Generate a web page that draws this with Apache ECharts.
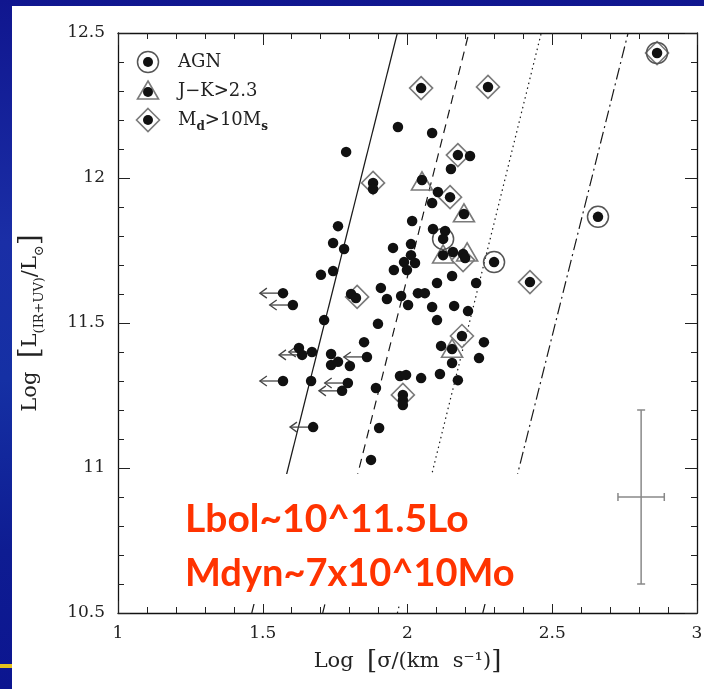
<!DOCTYPE html>
<html><head><meta charset="utf-8">
<script src="https://cdn.jsdelivr.net/npm/echarts@6.0.0/dist/echarts.min.js"></script>
<style>
html,body{margin:0;padding:0;width:704px;height:689px;overflow:hidden;
background:linear-gradient(180deg,#10168f 0%,#1a2ea6 35%,#1530a4 55%,#0e1c92 80%,#0c1590 100%);}
#wrap{position:absolute;left:12px;top:6px;width:692px;height:683px;background:#fff;}
#chart{width:692px;height:683px;}
#yl{position:absolute;left:0;top:664px;width:12px;height:4px;background:#e6c21c;}
</style></head>
<body>
<div id="wrap"><div id="chart"></div></div>
<div id="yl"></div>
<script>
// ---- data ----
const xTickLabels = ['1','1.5','2','2.5','3'];
const yTickLabels = ['10.5','11','11.5','12','12.5'];
const dots = [
[2.047,12.310],[2.278,12.314],[2.862,12.431],[1.967,12.176],[2.085,12.155],[1.788,12.090],[2.174,12.079],[2.216,12.076],[2.150,12.031],[2.050,11.993],
[1.881,11.983],[1.881,11.962],[2.105,11.952],[2.147,11.934],[2.085,11.914],[2.195,11.876],[2.658,11.866],[2.016,11.852],[1.760,11.834],[2.088,11.824],
[2.130,11.817],[2.123,11.790],[1.743,11.776],[2.012,11.772],[1.950,11.759],[1.781,11.755],[2.123,11.734],[2.157,11.745],[2.192,11.738],[2.199,11.724],
[2.299,11.710],[1.988,11.710],[2.026,11.707],[2.012,11.734],[1.998,11.683],[1.953,11.683],[1.701,11.666],[1.743,11.679],[2.154,11.662],[2.102,11.638],
[2.237,11.638],[2.423,11.641],[1.908,11.621],[1.570,11.603],[1.604,11.562],[1.805,11.600],[1.822,11.586],[1.929,11.583],[1.978,11.593],[2.002,11.562],
[2.036,11.603],[2.060,11.603],[2.085,11.555],[2.161,11.559],[2.209,11.541],[2.102,11.510],[1.712,11.510],[1.898,11.497],[1.850,11.434],[2.116,11.421],
[2.154,11.410],[2.188,11.455],[2.264,11.434],[2.247,11.379],[2.154,11.362],[1.625,11.414],[1.636,11.390],[1.670,11.400],[1.736,11.393],[1.860,11.383],
[1.736,11.355],[1.760,11.366],[1.801,11.352],[1.570,11.300],[1.667,11.300],[1.794,11.293],[1.774,11.266],[1.891,11.276],[1.974,11.317],[1.995,11.321],
[2.047,11.310],[2.112,11.324],[2.174,11.303],[1.984,11.252],[1.984,11.234],[1.984,11.217],[1.674,11.141],[1.902,11.138],[1.874,11.028]
];
const agn = [[2.862,12.431],[2.658,11.866],[2.123,11.790],[2.299,11.710]];
const redJK = [[2.050,11.990],[2.195,11.880],[2.123,11.738],[2.206,11.745],[2.154,11.413]];
const bigMd = [[2.047,12.310],[2.278,12.314],[2.862,12.431],[2.174,12.079],[1.881,11.983],[2.147,11.934],[2.192,11.717],[2.423,11.641],[1.826,11.590],[2.188,11.455],[1.984,11.252]];
const upperLimits = [[1.570,11.603],[1.604,11.562],[1.636,11.390],[1.670,11.400],[1.860,11.383],[1.570,11.300],[1.794,11.293],[1.774,11.266],[1.674,11.141]];
const arrowLen = 0.08;
const modelYEnds = [10.5, 12.5];
const modelXBottom = [1.462, 1.707, 1.965, 2.260];
const modelXTop = [1.965, 2.212, 2.462, 2.762];
const modelDash = ['solid', [9,6], [1.5,3.5], [12,4,2,4]];
const errorBar = [[2.807, 10.9, 0.08, 0.3]]; // x, y, xerr, yerr

// ---- chart ----
const chart = echarts.init(document.getElementById('chart'), null, {renderer:'canvas'});
const serif = 'DejaVu Serif';
const axisCommon = {
  type:'value', splitLine:{show:false},
  axisLine:{show:true, onZero:false, lineStyle:{color:'#111', width:1.3}},
  axisTick:{show:true, inside:true, length:12, lineStyle:{color:'#222', width:1}},
  minorTick:{show:true, splitNumber:5, length:6, lineStyle:{color:'#222', width:1}},
};
const series = [];
modelXBottom.forEach((xb,i)=>{
  series.push({type:'line', silent:true, showSymbol:false, symbol:'none', z:1,
    data:[[xb, modelYEnds[0]],[modelXTop[i], modelYEnds[1]]],
    lineStyle:{color:'#1a1a1a', width:1.2, type: modelDash[i]}});
});
series.push({type:'scatter', name:'M_d', data:bigMd, symbol:'diamond', symbolSize:23, z:3,
  itemStyle:{color:'rgba(0,0,0,0)', borderColor:'#7a7a7a', borderWidth:1.6, opacity:1}});
series.push({type:'scatter', name:'J-K', data:redJK, symbol:'triangle', symbolSize:[21,18], z:3,
  itemStyle:{color:'rgba(0,0,0,0)', borderColor:'#7a7a7a', borderWidth:1.6, opacity:1}});
series.push({type:'scatter', name:'AGN', data:agn, symbol:'circle', symbolSize:21, z:3,
  itemStyle:{color:'rgba(0,0,0,0)', borderColor:'#555', borderWidth:1.5, opacity:1}});
series.push({type:'custom', z:3, data:upperLimits, renderItem:function(params, api){
  const p = api.coord([api.value(0), api.value(1)]);
  const q = api.coord([api.value(0)-arrowLen, api.value(1)]);
  return {type:'group', children:[
    {type:'line', shape:{x1:p[0],y1:p[1],x2:q[0],y2:q[1]}, style:{stroke:'#444', lineWidth:1.3}},
    {type:'polyline', shape:{points:[[q[0]+7,q[1]-5],[q[0],q[1]],[q[0]+7,q[1]+5]]}, style:{stroke:'#444', fill:null, lineWidth:1.3}}
  ]};
}});
series.push({type:'scatter', name:'dots', data:dots, symbol:'circle', symbolSize:10.5, z:4,
  itemStyle:{color:'#111', opacity:1}});
series.push({type:'custom', z:3, data:errorBar, renderItem:function(params, api){
  const x=api.value(0), y=api.value(1), ex=api.value(2), ey=api.value(3);
  const c = api.coord([x,y]);
  const l = api.coord([x-ex,y]), r = api.coord([x+ex,y]);
  const t = api.coord([x,y+ey]), b = api.coord([x,y-ey]);
  const st = {stroke:'#888', lineWidth:1.5};
  return {type:'group', children:[
    {type:'line', shape:{x1:l[0],y1:c[1],x2:r[0],y2:c[1]}, style:st},
    {type:'line', shape:{x1:l[0],y1:c[1]-4,x2:l[0],y2:c[1]+4}, style:st},
    {type:'line', shape:{x1:r[0],y1:c[1]-4,x2:r[0],y2:c[1]+4}, style:st},
    {type:'line', shape:{x1:c[0],y1:t[1],x2:c[0],y2:b[1]}, style:st},
    {type:'line', shape:{x1:c[0]-4,y1:t[1],x2:c[0]+4,y2:t[1]}, style:st},
    {type:'line', shape:{x1:c[0]-4,y1:b[1],x2:c[0]+4,y2:b[1]}, style:st}
  ]};
}});

const legendBase = {fontFamily:serif, fontSize:18, fill:'#222'};
const option = {
  animation:false,
  backgroundColor:'#fff',
  grid:{left:106, top:27, right:7, bottom:76, containLabel:false, outerBoundsMode:'none'},
  xAxis:[
    Object.assign({}, axisCommon, {min:1, max:3, interval:0.5, position:'bottom',
      axisLabel:{fontFamily:serif, fontSize:17, color:'#222', margin:12,
        formatter:(v)=>xTickLabels[Math.round((v-1)/0.5)]},
      name:'{t|Log  }{b|[}{t|σ/(km  s⁻¹)}{b|]}', nameLocation:'middle', nameGap:36,
      nameTextStyle:{rich:{t:{fontFamily:serif, fontSize:21, color:'#222'}, b:{fontFamily:serif, fontSize:26, color:'#222'}}}}),
    Object.assign({}, axisCommon, {min:1, max:3, interval:0.5, position:'top', axisLabel:{show:false}})
  ],
  yAxis:[
    Object.assign({}, axisCommon, {min:10.5, max:12.5, interval:0.5, position:'left',
      axisLabel:{fontFamily:serif, fontSize:17, color:'#222', margin:13,
        formatter:(v)=>yTickLabels[Math.round((v-10.5)/0.5)]},
      name:'{t|Log  }{b|[}{t|L}{s|(IR+UV)}{t|/L}{s|⊙}{b|]}', nameLocation:'middle', nameGap:72, nameRotate:90,
      nameTextStyle:{rich:{
        t:{fontFamily:serif, fontSize:21, color:'#222', lineHeight:30, verticalAlign:'middle'},
        b:{fontFamily:serif, fontSize:28, color:'#222', lineHeight:30, verticalAlign:'middle'},
        s:{fontFamily:serif, fontSize:13, color:'#222', lineHeight:13, verticalAlign:'bottom'}}}}),
    Object.assign({}, axisCommon, {min:10.5, max:12.5, interval:0.5, position:'right', axisLabel:{show:false}})
  ],
  series:series,
  graphic:[
    // legend
    {type:'circle', z:20, shape:{cx:136, cy:56, r:10.5}, style:{stroke:'#555', fill:'#fff', lineWidth:1.5}},
    {type:'circle', z:21, shape:{cx:136, cy:56, r:5}, style:{fill:'#111'}},
    {type:'text', z:21, x:166, y:56, style:Object.assign({text:'AGN', verticalAlign:'middle'}, legendBase)},
    {type:'polygon', z:20, shape:{points:[[136,75],[146.5,93],[125.5,93]]}, style:{stroke:'#7a7a7a', fill:'#fff', lineWidth:1.6}},
    {type:'circle', z:21, shape:{cx:136, cy:86, r:5}, style:{fill:'#111'}},
    {type:'text', z:21, x:166, y:85, style:Object.assign({text:'J−K>2.3', verticalAlign:'middle'}, legendBase)},
    {type:'polygon', z:20, shape:{points:[[136,102.5],[147.5,114],[136,125.5],[124.5,114]]}, style:{stroke:'#7a7a7a', fill:'#fff', lineWidth:1.6}},
    {type:'circle', z:21, shape:{cx:136, cy:114, r:5}, style:{fill:'#111'}},
    {type:'text', z:21, x:166, y:114, style:{text:'{a|M}{s|d}{a|>10M}{s|s}', verticalAlign:'middle',
      rich:{a:{fontFamily:serif, fontSize:18, fill:'#222', lineHeight:26, verticalAlign:'middle'},
            s:{fontFamily:serif, fontSize:12, fontWeight:'bold', fill:'#222', lineHeight:12, verticalAlign:'bottom'}}}},
    // white slide box + red text
    {type:'rect', left:114, top:468, z:30, shape:{width:440, height:130}, style:{fill:'#fff'}},
    {type:'text', left:173, top:494, z:31, style:{text:'Lbol~10^11.5Lo', fontFamily:'Lato', fontWeight:'bold', fontSize:39, fill:'#ff3300'}},
    {type:'text', left:173, top:549, z:31, style:{text:'Mdyn~7x10^10Mo', fontFamily:'Lato', fontWeight:'bold', fontSize:38, fill:'#ff3300'}}
  ]
};
chart.setOption(option);
</script>
</body></html>
